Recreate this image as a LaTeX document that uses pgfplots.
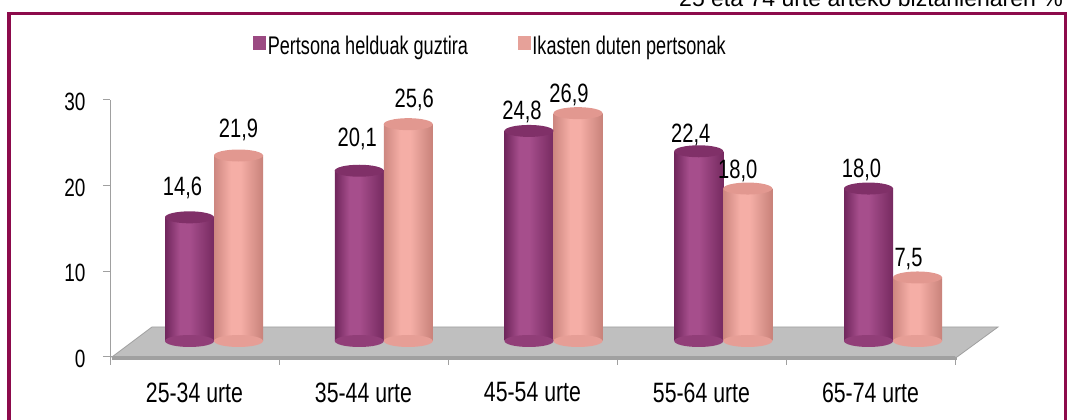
\documentclass[border=0pt]{standalone}
\usepackage{fontspec}
\setmainfont{Liberation Sans}
\newfontfamily\nf{Liberation Sans}[FakeStretch=0.76]
\newfontfamily\lf{Liberation Sans}[FakeStretch=0.71]
\usepackage{pgfplots}
\usepackage{pgfplotstable}
\pgfplotsset{compat=1.18}
\definecolor{framec}{RGB}{140,10,75}
\definecolor{pEdgeL}{RGB}{112,38,92}
\definecolor{pEdgeR}{RGB}{118,42,96}
\definecolor{pHi}{RGB}{166,78,140}
\definecolor{pCap}{RGB}{128,48,104}
\definecolor{pLeg}{RGB}{155,74,130}
\definecolor{pBot}{RGB}{145,62,120}
\definecolor{kEdgeL}{RGB}{205,135,128}
\definecolor{kEdgeR}{RGB}{200,130,122}
\definecolor{kHi}{RGB}{245,174,166}
\definecolor{kCap}{RGB}{226,152,144}
\definecolor{kLeg}{RGB}{230,161,153}
\definecolor{kBot}{RGB}{230,158,150}
\definecolor{floorc}{RGB}{191,191,191}
\definecolor{floore}{RGB}{160,160,160}
\definecolor{axisg}{RGB}{160,160,160}

\pgfdeclarehorizontalshading{purpcyl}{100bp}{color(0bp)=(pEdgeL); color(25bp)=(pEdgeL); color(40bp)=(pHi); color(50bp)=(pHi); color(75bp)=(pEdgeR); color(100bp)=(pEdgeR)}
\pgfdeclarehorizontalshading{pinkcyl}{100bp}{color(0bp)=(kEdgeL); color(25bp)=(kEdgeL); color(42bp)=(kHi); color(52bp)=(kHi); color(75bp)=(kEdgeR); color(100bp)=(kEdgeR)}

\pgfdeclareplotmark{pbot}{\pgfpathellipse{\pgfqpoint{-24.5pt}{0pt}}{\pgfqpoint{24.5pt}{0pt}}{\pgfqpoint{0pt}{6pt}}\pgfusepathqfill}
\pgfdeclareplotmark{kbot}{\pgfpathellipse{\pgfqpoint{24.5pt}{0pt}}{\pgfqpoint{24.5pt}{0pt}}{\pgfqpoint{0pt}{6pt}}\pgfusepathqfill}
\pgfdeclareplotmark{ptop}{\pgfpathellipse{\pgfqpoint{-24.5pt}{0pt}}{\pgfqpoint{24.5pt}{0pt}}{\pgfqpoint{0pt}{6pt}}\pgfusepathqfill}
\pgfdeclareplotmark{ktop}{\pgfpathellipse{\pgfqpoint{24.5pt}{0pt}}{\pgfqpoint{24.5pt}{0pt}}{\pgfqpoint{0pt}{6pt}}\pgfusepathqfill}

\newcommand{\pbody}[2]{\addplot[ybar, bar width=49pt, bar shift=-24.5pt, draw=none, shade, shading=purpcyl, forget plot] coordinates {(#1,#2)};}
\newcommand{\kbody}[2]{\addplot[ybar, bar width=49pt, bar shift=24.5pt, draw=none, shade, shading=pinkcyl, forget plot] coordinates {(#1,#2)};}

% values with label text and label offsets (pt) from the category centre
\pgfplotstableread{
x y lab dx dy
0 14.6 14,6 -31.5 22
1 20.1 20,1 -26.5 24
2 24.8 24,8 -31.5 11
3 22.4 22,4 -32.5 9
4 18.0 18,0 -31.5 11.5
}\persons
\pgfplotstableread{
x y lab dx dy
0 21.9 21,9 24.5 18.5
1 25.6 25,6 30.5 17
2 26.9 26,9 15.5 11
3 18.0 18,0 14.5 10.5
4 7.5 7,5 15.5 10.5
}\learners

\begin{document}
\begin{tikzpicture}[x=1pt,y=1pt]
\useasboundingbox (0pt,0pt) rectangle (1068pt,420pt);
\clip (0pt,0pt) rectangle (1068pt,420pt);
% frame
\draw[framec, line width=3.5pt] (9pt,-10pt) -- (9pt,406.5pt) -- (1065.5pt,406.5pt) -- (1065.5pt,-10pt);
\node[anchor=base east, font=\fontsize{23}{27}\selectfont, inner sep=0pt] at (1063pt,413pt) {25 eta 74 urte arteko biztanleriaren \%};
% floor
\fill[floore] (112pt,60pt) rectangle (957pt,63pt);
\filldraw[fill=floorc, draw=floore, line width=0.8pt] (112pt,63pt) -- (957pt,63pt) -- (998pt,93pt) -- (152pt,93pt) -- cycle;

\begin{axis}[
  at={(110pt,63pt)}, anchor=origin,
  scale only axis, width=845pt, height=257pt,
  xmin=0, xmax=5, ymin=0, ymax=30,
  axis x line*=bottom, axis y line*=left,
  axis line style={draw=axisg, line width=1pt},
  ytick={0,10,20,30},
  xtick={0.5,1.5,2.5,3.5,4.5},
  xticklabels={25-34 urte,35-44 urte,45-54 urte,55-64 urte,65-74 urte},
  minor xtick={0,1,2,3,4,5},
  major x tick style={draw=none},
  tick align=outside,
  major tick length=7pt, minor tick length=8pt,
  every tick/.style={draw=axisg, line width=1pt},
  minor tick style={draw=axisg, line width=1pt},
  /pgf/number format/assume math mode=true,
  yticklabel style={font=\nf\fontsize{25}{30}\selectfont, xshift=-14pt, yshift=-2pt},
  xticklabel style={font=\nf\fontsize{28}{32}\selectfont, yshift=-15pt},
]
\end{axis}

\begin{axis}[
  at={(214pt,79pt)}, anchor=origin,
  scale only axis, width=848.75pt, height=254.1pt,
  xmin=-0.5, xmax=4.5, ymin=0, ymax=30,
  hide axis, clip=false,
  legend columns=2,
  legend style={draw=none, fill=none, at={(0.4258,1.161)}, anchor=center,
    font=\lf\fontsize{25.5}{29}\selectfont,
    /tikz/every even column/.append style={column sep=48pt},
    nodes={inner xsep=2pt, inner ysep=1pt}},
  lbl/.style={only marks, forget plot,
    point meta=explicit symbolic, nodes near coords,
    visualization depends on={\thisrow{dx} \as \ldx},
    visualization depends on={\thisrow{dy} \as \ldy},
    every node near coord/.style={anchor=base, inner sep=0pt, xshift=\ldx pt, yshift=\ldy pt, font=\nf\fontsize{26.5}{30}\selectfont, text=black}},
]
\addlegendimage{legend image code/.code={\fill[pLeg] (0pt,-3pt) rectangle (12pt,10pt);}}
\addlegendentry{Pertsona helduak guztira}
\addlegendimage{legend image code/.code={\fill[kLeg] (0pt,-3pt) rectangle (12pt,10pt);}}
\addlegendentry{Ikasten duten pertsonak}

% purple series
\addplot[only marks, mark=pbot, mark options={fill=pBot}, forget plot] coordinates {(0,0) (1,0) (2,0) (3,0) (4,0)};
\pbody{0}{14.6}\pbody{1}{20.1}\pbody{2}{24.8}\pbody{3}{22.4}\pbody{4}{18.0}
\addplot[lbl, mark=ptop, mark options={fill=pCap}] table[x=x, y=y, meta=lab] {\persons};
% pink series
\addplot[only marks, mark=kbot, mark options={fill=kBot}, forget plot] coordinates {(0,0) (1,0) (2,0) (3,0) (4,0)};
\kbody{0}{21.9}\kbody{1}{25.6}\kbody{2}{26.9}\kbody{3}{18.0}\kbody{4}{7.5}
\addplot[lbl, mark=ktop, mark options={fill=kCap}] table[x=x, y=y, meta=lab] {\learners};
\end{axis}
\end{tikzpicture}
\end{document}
